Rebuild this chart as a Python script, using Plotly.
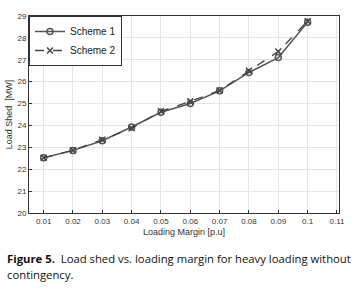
import plotly.graph_objects as go

loading_margin = [0.01, 0.02, 0.03, 0.04, 0.05, 0.06, 0.07, 0.08, 0.09, 0.1]
scheme1 = [22.52, 22.86, 23.3, 23.93, 24.6, 25.0, 25.58, 26.42, 27.1, 28.72]
scheme2 = [22.52, 22.87, 23.35, 23.87, 24.65, 25.1, 25.6, 26.5, 27.38, 28.76]
x_ticks = [0.01, 0.02, 0.03, 0.04, 0.05, 0.06, 0.07, 0.08, 0.09, 0.1, 0.11]
x_tick_labels = ["0.01", "0.02", "0.03", "0.04", "0.05", "0.06", "0.07", "0.08", "0.09", "0.1", "0.11"]
y_ticks = [20, 21, 22, 23, 24, 25, 26, 27, 28, 29]

fig = go.Figure()
fig.add_trace(go.Scatter(
    x=loading_margin, y=scheme1, name="Scheme 1", mode="lines+markers",
    line=dict(color="#555555", width=1.5),
    marker=dict(symbol="circle-open", size=6, color="#555555", line=dict(width=1.5)),
))
fig.add_trace(go.Scatter(
    x=loading_margin, y=scheme2, name="Scheme 2", mode="lines+markers",
    line=dict(color="#444444", width=1.3, dash="dash"),
    marker=dict(symbol="x-thin-open", size=6, color="#444444", line=dict(width=1.5, color="#444444")),
))

axis_common = dict(
    showline=True, linecolor="#333333", linewidth=1, mirror=True,
    showgrid=True, gridcolor="#e4e4e4", gridwidth=1,
    ticks="inside", ticklen=3, tickcolor="#333333",
    tickfont=dict(family="Liberation Sans", size=8, color="#333333"),
    zeroline=False, automargin=False,
)

fig.update_layout(
    width=361, height=294,
    margin=dict(l=29, r=22, t=16, b=81),
    paper_bgcolor="white", plot_bgcolor="white",
    showlegend=True,
    legend=dict(
        x=0, y=1, xanchor="left", yanchor="top",
        bgcolor="white", bordercolor="#333333", borderwidth=1,
        font=dict(family="Liberation Sans", size=10, color="#222222"),
        itemwidth=30,
    ),
    xaxis=dict(range=[0.005, 0.1107], tickvals=x_ticks, ticktext=x_tick_labels,
               ticklabelstandoff=0,
               title=dict(text="Loading Margin [p.u]", standoff=4,
                          font=dict(family="Liberation Sans", size=9, color="#333333")),
               **axis_common),
    yaxis=dict(range=[20, 29], tickvals=y_ticks,
               title=dict(text="Load Shed  [MW]", standoff=3,
                          font=dict(family="Liberation Sans", size=9, color="#333333")),
               **axis_common),
)

fig.add_annotation(
    xref="paper", yref="paper", x=-24 / 310, y=-45 / 197, xanchor="left", yanchor="middle",
    text="<b>Figure 5.</b>  Load shed vs. loading margin for heavy loading without",
    showarrow=False, font=dict(family="Open Sans", size=11.3, color="#111111"),
)
fig.add_annotation(
    xref="paper", yref="paper", x=-24 / 310, y=-61 / 197, xanchor="left", yanchor="middle",
    text="contingency.",
    showarrow=False, font=dict(family="Open Sans", size=11.3, color="#111111"),
)

fig.write_html("out.html", config={"displayModeBar": False},
               post_script="document.body.style.margin='0px';")
